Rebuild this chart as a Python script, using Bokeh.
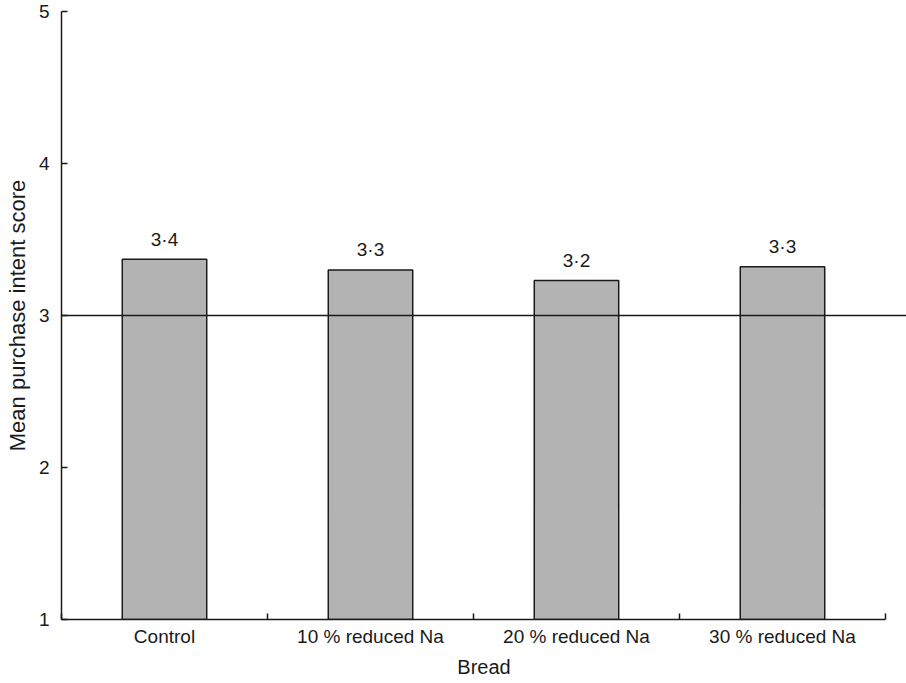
from bokeh.plotting import figure
from bokeh.models import Range1d, FixedTicker, Span, ColumnDataSource
from bokeh.core.properties import value
from bokeh.embed import file_html
from bokeh.resources import INLINE

categories = ["Control", "10 % reduced Na", "20 % reduced Na", "30 % reduced Na"]
scores = [3.37, 3.30, 3.23, 3.32]
score_labels = ["3·4", "3·3", "3·2", "3·3"]
y_ticks = [1, 2, 3, 4, 5]
reference_level = 3

FONT = "Liberation Sans"
INK = "#1a1a1a"

centers = [i + 0.5 for i in range(len(categories))]
boundaries = list(range(len(categories) + 1))

src = ColumnDataSource(dict(x=centers, top=scores, lab=score_labels))

p = figure(width=906, height=683, output_backend="svg", toolbar_location=None,
           x_range=Range1d(0, 4.102), y_range=Range1d(1, 5),
           min_border_left=61, min_border_right=0, min_border_top=11, min_border_bottom=64)
p.outline_line_color = None
p.xgrid.visible = False
p.ygrid.visible = False
p.background_fill_color = "white"
p.border_fill_color = "white"

p.vbar(x="x", top="top", bottom=1, width=0.41, source=src,
       fill_color="#b3b3b3", line_color=INK, line_width=1.5)

p.add_layout(Span(location=reference_level, dimension="width",
                  line_color=INK, line_width=1.5))

p.text(x="x", y="top", text="lab", source=src, text_align="center",
       text_baseline="alphabetic", y_offset=-20,
       text_font=value(FONT), text_font_size="19px", text_color=INK)

# x axis
xa = p.xaxis[0]
xa.ticker = FixedTicker(ticks=centers, minor_ticks=boundaries)
xa.major_label_overrides = {c: name for c, name in zip(centers, categories)}
xa.major_tick_in = 0
xa.major_tick_out = 0
xa.minor_tick_in = 6
xa.minor_tick_out = 0
xa.minor_tick_line_width = 1.5
xa.minor_tick_line_color = INK
xa.bounds = (0, len(categories))
xa.axis_line_width = 1.5
xa.axis_line_color = INK
xa.major_label_standoff = 6
xa.major_label_text_font = FONT
xa.major_label_text_font_size = "19px"
xa.major_label_text_color = INK
xa.axis_label = "Bread"
xa.axis_label_standoff = 6
xa.axis_label_text_font = FONT
xa.axis_label_text_font_size = "20px"
xa.axis_label_text_font_style = "normal"
xa.axis_label_text_color = INK

# y axis
ya = p.yaxis[0]
ya.ticker = FixedTicker(ticks=y_ticks, minor_ticks=[])
ya.major_tick_in = 6
ya.major_tick_out = 0
ya.major_tick_line_width = 1.5
ya.major_tick_line_color = INK
ya.axis_line_width = 1.5
ya.axis_line_color = INK
ya.major_label_standoff = 12
ya.major_label_text_font = FONT
ya.major_label_text_font_size = "19px"
ya.major_label_text_color = INK
ya.axis_label = "Mean purchase intent score"
ya.axis_label_standoff = 6
ya.axis_label_text_font = FONT
ya.axis_label_text_font_size = "22px"
ya.axis_label_text_font_style = "normal"
ya.axis_label_text_color = INK

open("out.html", "w").write(file_html(p, INLINE))
